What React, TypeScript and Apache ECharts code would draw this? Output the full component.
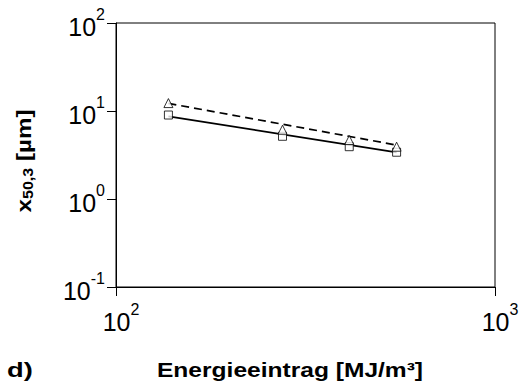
import React, { useEffect, useRef } from "react";
import * as echarts from "echarts";

const xValues = [137.5, 275, 412.5, 550];
const squareValues = [9.0, 5.16, 3.93, 3.4];
const triangleValues = [12.3, 6.13, 4.68, 3.93];
const trendX = [137.5, 550];
const solidTrend = [8.7, 3.38];
const dashedTrend = [12.2, 4.1];
const xRange = [100, 1000];
const yRange = [0.1, 100];

const FONT = "'Liberation Sans', Arial, Helvetica, sans-serif";

const tickRich = {
  b: { fontSize: 25, fontFamily: FONT, color: "#000", lineHeight: 33, verticalAlign: "bottom" },
  s: { fontSize: 16, fontFamily: FONT, color: "#000", lineHeight: 33, verticalAlign: "top" },
};

function powLabel(v: number) {
  const e = Math.round(Math.log10(v));
  return `{b|10}{s|${e}}`;
}

export default function App() {
  const ref = useRef<HTMLDivElement>(null);
  useEffect(() => {
    if (!ref.current) return;
    const chart = echarts.init(ref.current, null, { renderer: "svg" });
    const zip = (xs: number[], ys: number[]) => xs.map((x, i) => [x, ys[i]]);
    chart.setOption({
      animation: false,
      backgroundColor: "#fff",
      grid: {
        left: 116,
        right: 27,
        top: 23,
        bottom: 96,
        show: true,
        borderColor: "#000",
        borderWidth: 1,
        backgroundColor: "transparent",
      },
      xAxis: {
        type: "log",
        logBase: 10,
        min: xRange[0],
        max: xRange[1],
        axisLine: { show: true, lineStyle: { color: "#000", width: 1 } },
        axisTick: { show: true, length: 9, inside: false, lineStyle: { color: "#000" } },
        minorTick: { show: false },
        splitLine: { show: false },
        axisLabel: {
          margin: 14,
          formatter: powLabel,
          rich: tickRich,
          padding: [0, 0, 0, 10],
        },
      },
      yAxis: {
        type: "log",
        logBase: 10,
        min: yRange[0],
        max: yRange[1],
        axisLine: { show: true, lineStyle: { color: "#000", width: 1 } },
        axisTick: { show: true, length: 9, inside: false, lineStyle: { color: "#000" } },
        minorTick: { show: false },
        splitLine: { show: false },
        axisLabel: {
          margin: 11,
          formatter: powLabel,
          rich: tickRich,
        },
      },
      series: [
        {
          type: "line",
          data: zip(trendX, solidTrend),
          showSymbol: false,
          symbol: "none",
          lineStyle: { color: "#000", width: 1.7 },
          z: 2,
        },
        {
          type: "line",
          data: zip(trendX, dashedTrend),
          showSymbol: false,
          symbol: "none",
          lineStyle: { color: "#000", width: 1.7, type: [8, 5] },
          z: 2,
        },
        {
          type: "scatter",
          data: zip(xValues, squareValues),
          symbol: "rect",
          symbolSize: 8,
          itemStyle: { color: "#fff", borderColor: "#000", borderWidth: 1 },
          z: 3,
        },
        {
          type: "scatter",
          data: zip(xValues, triangleValues),
          symbol: "triangle",
          symbolSize: [9, 9],
          itemStyle: { color: "#fff", borderColor: "#000", borderWidth: 1 },
          z: 4,
        },
      ],
      graphic: [
        {
          type: "text",
          x: 7,
          y: 370,
          scaleX: 1.3,
          style: {
            text: "d)",
            font: `bold 21px ${FONT}`,
            fill: "#000",
            align: "left",
            verticalAlign: "middle",
          },
        },
        {
          type: "text",
          x: 290,
          y: 370,
          scaleX: 1.17,
          style: {
            text: "Energieeintrag [MJ/m³]",
            font: `bold 21px ${FONT}`,
            fill: "#000",
            align: "center",
            verticalAlign: "middle",
          },
        },
        {
          type: "text",
          x: 22,
          y: 161,
          rotation: Math.PI / 2,
          scaleX: 1.15,
          style: {
            text: "{b|x}{s|50,3}{b| [µm]}",
            align: "center",
            verticalAlign: "middle",
            rich: {
              b: { font: `bold 21px ${FONT}`, fill: "#000", lineHeight: 26, verticalAlign: "bottom" },
              s: { font: `bold 14px ${FONT}`, fill: "#000", lineHeight: 26, verticalAlign: "bottom" },
            },
          },
        },
      ],
    });
    return () => chart.dispose();
  }, []);
  return (
    <div
      ref={ref}
      style={{ position: "fixed", left: 0, top: 0, width: 522, height: 383 }}
    />
  );
}
